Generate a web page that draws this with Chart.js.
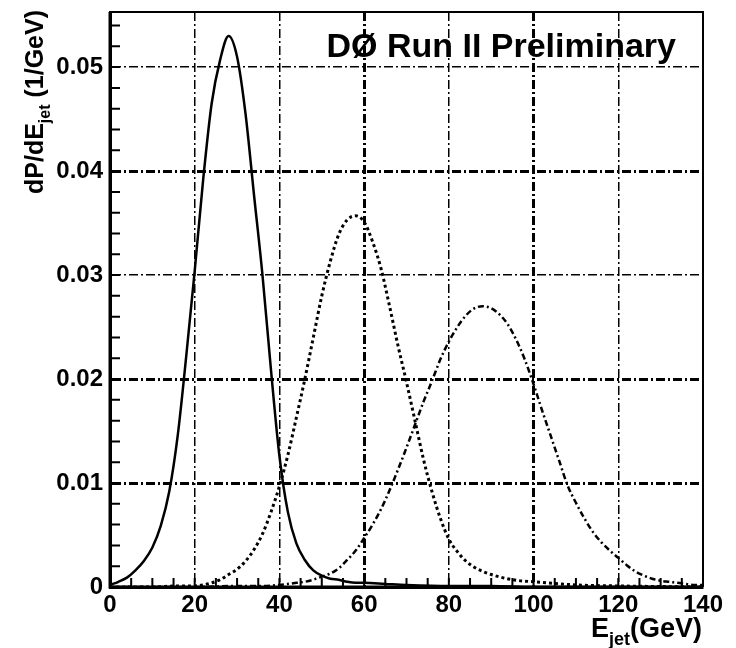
<!DOCTYPE html>
<html>
<head>
<meta charset="utf-8">
<script src="https://cdn.jsdelivr.net/npm/chart.js@4.4.1/dist/chart.umd.min.js"></script>
<style>
  html, body { margin: 0; padding: 0; background: #fff; }
  canvas { display: block; }
</style>
</head>
<body>
<canvas id="jet-chart" width="736" height="648"></canvas>
<script>
// Jet energy spectra, dP/dE in 1/GeV, for three jet samples
const solidE = [0, 2, 4, 6, 8, 10, 12, 14, 16, 18, 20, 22, 24, 26, 28, 30, 32, 34, 36, 38, 40,
  42, 44, 46, 48, 50, 52, 54, 56, 58, 60, 65, 70, 80, 90, 100, 120, 140];
const solidP = [0.0002, 0.0005, 0.0009, 0.0016, 0.0025, 0.0038, 0.0059, 0.0092, 0.0146, 0.0222,
  0.0304, 0.0392, 0.0465, 0.0507, 0.0530, 0.0510, 0.0455, 0.0377, 0.0300, 0.0209, 0.0126,
  0.0072, 0.0042, 0.0026, 0.0016, 0.0011, 0.0008, 0.0007, 0.0005, 0.0004, 0.0004, 0.0003,
  0.0002, 0.0001, 0.0001, 0, 0, 0];

const dottedE = [0, 10, 16, 20, 22, 24, 26, 28, 30, 32, 34, 36, 38, 40, 42, 44, 46, 48, 50, 52,
  54, 56, 58, 60, 62, 64, 66, 68, 70, 72, 74, 76, 78, 80, 82, 84, 86, 88, 90, 95, 100, 110, 120, 140];
const dottedP = [0, 0, 0.0001, 0.0001, 0.0002, 0.0004, 0.0007, 0.0012, 0.0017, 0.0025, 0.0036,
  0.0051, 0.0072, 0.0097, 0.0127, 0.0163, 0.0200, 0.0240, 0.0280, 0.0313, 0.0339, 0.0353,
  0.0357, 0.0351, 0.0332, 0.0306, 0.0270, 0.0232, 0.0197, 0.0160, 0.0123, 0.0092, 0.0066,
  0.0046, 0.0034, 0.0025, 0.0019, 0.0015, 0.0012, 0.0007, 0.0005, 0.0002, 0.0001, 0];

const dashDotE = [0, 20, 30, 36, 40, 42, 44, 46, 48, 50, 52, 54, 56, 58, 60, 62, 64, 66, 68, 70,
  72, 74, 76, 78, 80, 82, 84, 86, 88, 90, 92, 94, 96, 98, 100, 102, 104, 106, 108, 110, 112,
  114, 116, 118, 120, 122, 124, 126, 128, 130, 132, 134, 136, 138, 140];
const dashDotP = [0, 0, 0.0001, 0.0001, 0.0002, 0.0003, 0.0004, 0.0005, 0.0007, 0.0010, 0.0013,
  0.0018, 0.0026, 0.0035, 0.0047, 0.0060, 0.0075, 0.0093, 0.0113, 0.0134, 0.0156, 0.0178,
  0.0198, 0.0219, 0.0236, 0.0250, 0.0261, 0.0268, 0.0270, 0.0268, 0.0262, 0.0252, 0.0237,
  0.0218, 0.0195, 0.0170, 0.0146, 0.0122, 0.0098, 0.0081, 0.0066, 0.0053, 0.0043, 0.0035,
  0.0028, 0.0021, 0.0015, 0.0011, 0.0008, 0.0006, 0.0005, 0.0004, 0.0003, 0.0002, 0.0002];

const xTicks = [0, 20, 40, 60, 80, 100, 120, 140];
const yTicks = [0, 0.01, 0.02, 0.03, 0.04, 0.05];
const xMax = 140;
const yMax = 0.0553;

// grid lines that print heavier
const heavyX = [60, 100];
const heavyY = [0.01, 0.02, 0.04];

const FONT = '"Liberation Sans", Arial, sans-serif';

function toPoints(xs, ys) {
  return xs.map((x, i) => ({ x, y: ys[i] }));
}

// draws a run of text pieces (with subscripts) ending at x = 0
function drawPieces(ctx, pieces) {
  let total = 0;
  pieces.forEach(p => {
    ctx.font = `bold ${p.size}px ${FONT}`;
    p.w = ctx.measureText(p.t).width;
    total += p.w;
  });
  let x = -total;
  pieces.forEach(p => {
    ctx.font = `bold ${p.size}px ${FONT}`;
    ctx.fillText(p.t, x, p.dy || 0);
    x += p.w;
  });
}

const frameAndLabels = {
  id: 'frameAndLabels',
  afterDraw(chart) {
    const { ctx, chartArea: a, scales: { x, y } } = chart;
    ctx.save();
    ctx.strokeStyle = '#000';
    ctx.fillStyle = '#000';

    // small ticks pointing into the plot
    ctx.lineWidth = 2;
    ctx.beginPath();
    for (let v = 0.002; v < yMax; v += 0.002) {
      const py = y.getPixelForValue(v);
      ctx.moveTo(a.left, py);
      ctx.lineTo(a.left + 10, py);
    }
    for (let v = 5; v < xMax; v += 5) {
      const px = x.getPixelForValue(v);
      ctx.moveTo(px, a.bottom);
      ctx.lineTo(px, a.bottom - 9);
    }
    ctx.stroke();

    // frame
    ctx.lineWidth = 2;
    ctx.beginPath();
    ctx.moveTo(a.left, a.top);
    ctx.lineTo(a.right, a.top);
    ctx.lineTo(a.right, a.bottom);
    ctx.stroke();
    ctx.lineWidth = 3;
    ctx.beginPath();
    ctx.moveTo(a.left, a.top);
    ctx.lineTo(a.left, a.bottom);
    ctx.lineTo(a.right, a.bottom);
    ctx.stroke();

    // headline
    ctx.textAlign = 'right';
    ctx.textBaseline = 'alphabetic';
    ctx.font = `bold 34px ${FONT}`;
    ctx.fillText('DØ Run II Preliminary', 676, 57);

    ctx.textAlign = 'left';
    // x title
    ctx.save();
    ctx.translate(702, 637);
    drawPieces(ctx, [
      { t: 'E', size: 27 },
      { t: 'jet', size: 18, dy: 8 },
      { t: '(GeV)', size: 27 }
    ]);
    ctx.restore();

    // y title
    ctx.save();
    ctx.translate(43, 10);
    ctx.rotate(-Math.PI / 2);
    drawPieces(ctx, [
      { t: 'dP/dE', size: 25 },
      { t: 'jet', size: 16, dy: 7 },
      { t: ' (1/GeV)', size: 25 }
    ]);
    ctx.restore();

    ctx.restore();
  }
};

const gridStyle = heavy => ({
  color: '#000',
  drawTicks: false,
  lineWidth: c => (c.tick && heavy.includes(c.tick.value) ? 3 : 1.5)
});

new Chart(document.getElementById('jet-chart'), {
  type: 'line',
  data: {
    datasets: [
      {
        data: toPoints(solidE, solidP),
        borderColor: '#000',
        borderWidth: 2.5
      },
      {
        data: toPoints(dottedE, dottedP),
        borderColor: '#000',
        borderWidth: 3,
        borderDash: [3, 3]
      },
      {
        data: toPoints(dashDotE, dashDotP),
        borderColor: '#000',
        borderWidth: 2.5,
        borderDash: [6, 3, 2, 3]
      }
    ]
  },
  options: {
    responsive: false,
    animation: false,
    events: [],
    layout: { padding: { top: 12, right: 33, left: 0, bottom: 0 } },
    elements: {
      point: { radius: 0 },
      line: { cubicInterpolationMode: 'monotone', fill: false }
    },
    plugins: {
      legend: { display: false },
      tooltip: { enabled: false }
    },
    scales: {
      x: {
        type: 'linear',
        min: 0,
        max: xMax,
        afterBuildTicks: s => { s.ticks = xTicks.map(v => ({ value: v })); },
        afterFit: s => {
          s.height = 61;
          s.paddingLeft = 0;
          s.paddingRight = 0;
        },
        ticks: {
          color: '#000',
          padding: 4,
          maxRotation: 0,
          font: { family: FONT, size: 24, weight: 'bold' }
        },
        grid: gridStyle(heavyX),
        border: { color: '#000', width: 3, dash: [9, 3, 2, 3] }
      },
      y: {
        type: 'linear',
        min: 0,
        max: yMax,
        afterBuildTicks: s => { s.ticks = yTicks.map(v => ({ value: v })); },
        afterFit: s => {
          s.width = 110;
          s.paddingTop = 0;
          s.paddingBottom = 0;
        },
        ticks: {
          color: '#000',
          padding: 7,
          font: { family: FONT, size: 24, weight: 'bold' },
          callback: v => (v === 0 ? '0' : v.toFixed(2))
        },
        grid: gridStyle(heavyY),
        border: { color: '#000', width: 3, dash: [9, 3, 2, 3] }
      }
    }
  },
  plugins: [frameAndLabels]
});
</script>
</body>
</html>
